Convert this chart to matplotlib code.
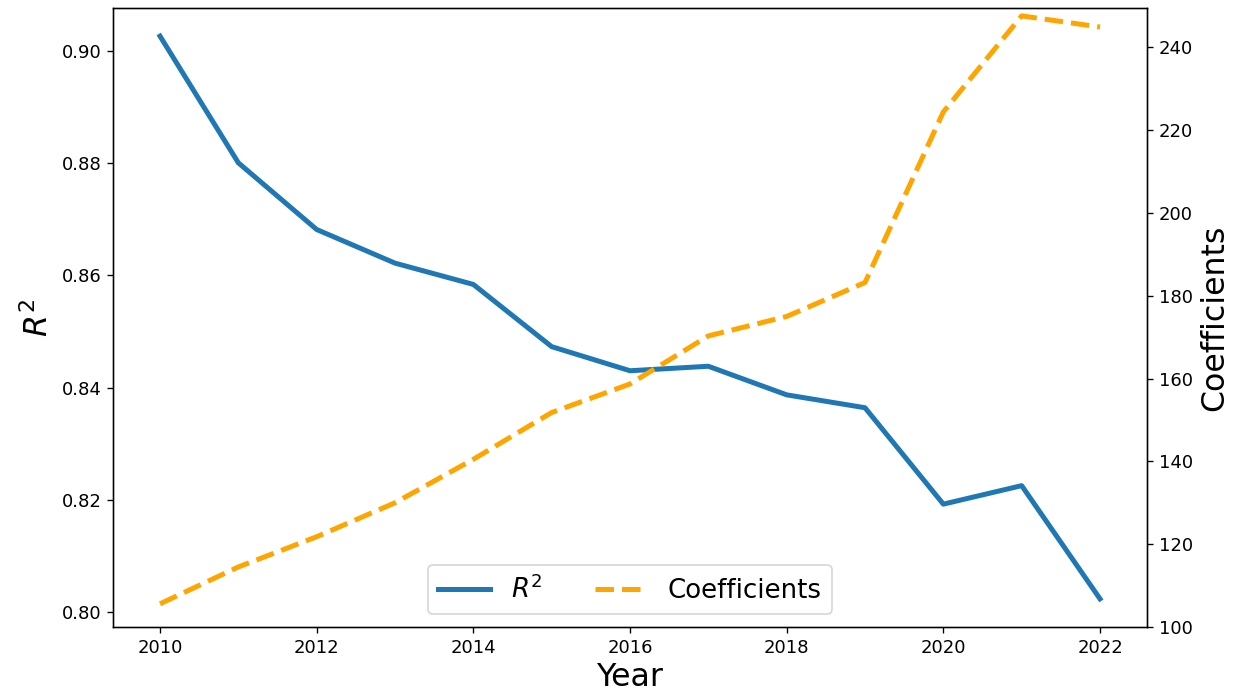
import numpy as np
import matplotlib
matplotlib.use("Agg")
import matplotlib.pyplot as plt

years = [2010, 2011, 2012, 2013, 2014, 2015, 2016, 2017, 2018, 2019, 2020, 2021, 2022]
r2 = [0.9027, 0.8801, 0.8682, 0.8622, 0.8584, 0.8473, 0.8430, 0.8438, 0.8387, 0.8364, 0.8192, 0.8225, 0.8023]
coefs = [105.6, 114.5, 121.8, 130.0, 140.5, 151.8, 158.7, 170.3, 175.0, 183.2, 224.4, 247.6, 244.9]

fig = plt.figure(figsize=(1247/120, 698/120), dpi=120)
ax = fig.add_axes([113/1247, 1-627/698, (1147-113)/1247, (627-8)/698])
l1, = ax.plot(years, r2, c="tab:blue", lw=3, label="$R^2$")
ax.set_xlabel("Year", fontsize=19, labelpad=3)
ax.set_ylabel("$R^2$", fontsize=19)
ax.tick_params(labelsize=10.8)

ax2 = ax.twinx()
l2, = ax2.plot(years, coefs, c="orange", lw=3, ls="--", label="Coefficients")
ax2.set_ylim(100, 249.5)
ax2.set_ylabel("Coefficients", fontsize=19)
ax2.tick_params(labelsize=10.8)

ax.legend(handles=[l1, l2], loc="lower center", ncol=2, fontsize=15.6)

plt.savefig("out.png", dpi=120)
